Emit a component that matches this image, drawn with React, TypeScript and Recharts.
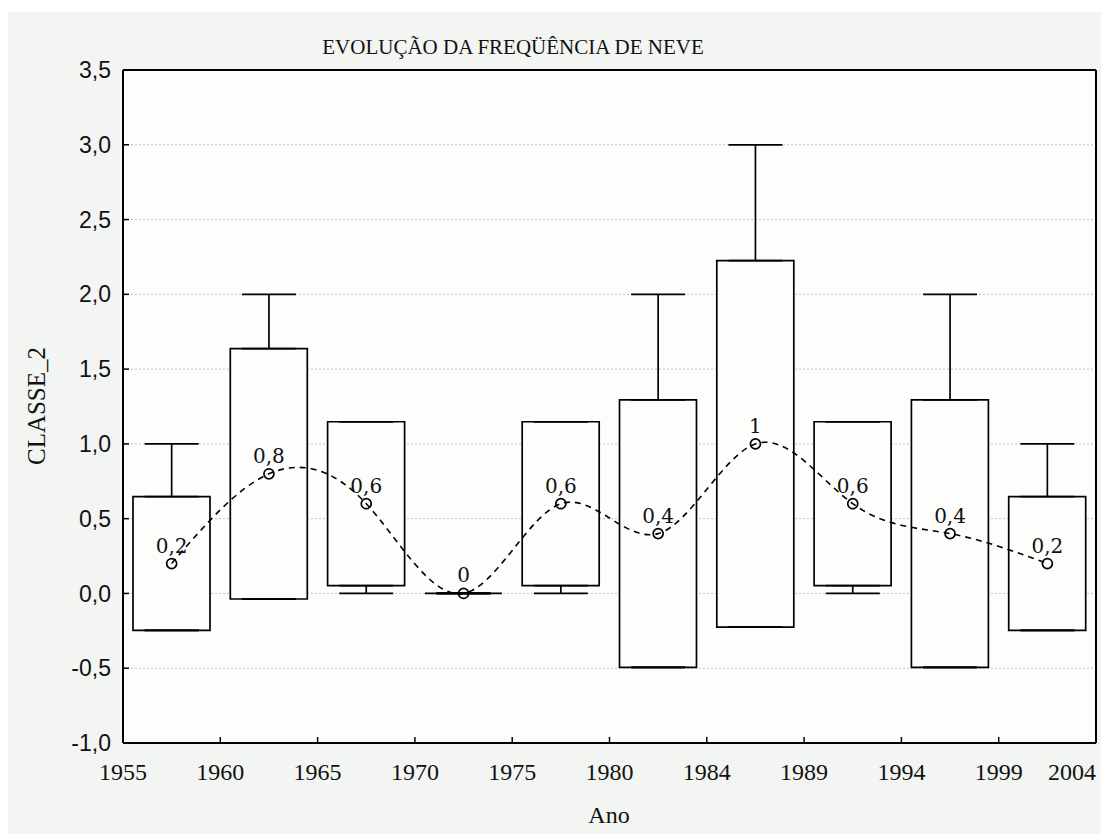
import React from "react";
import {
  ComposedChart, Bar, Line, Scatter, ErrorBar, XAxis, YAxis, CartesianGrid, LabelList,
} from "recharts";

// year tick labels (11 boundaries) and per-period statistics (10 periods)
const years = ["1955", "1960", "1965", "1970", "1975", "1980", "1984", "1989", "1994", "1999", "2004"];
const means = [0.2, 0.8, 0.6, 0, 0.6, 0.4, 1, 0.6, 0.4, 0.2];
const sds = [0.447, 0.837, 0.548, 0, 0.548, 0.894, 1.225, 0.548, 0.894, 0.447];
const mins = [0, 0, 0, 0, 0, 0, 0, 0, 0, 0];
const maxs = [1, 2, 1, 0, 1, 2, 3, 1, 2, 1];
const yTicks = [-1, -0.5, 0, 0.5, 1, 1.5, 2, 2.5, 3, 3.5];

// box = mean ± sd, whiskers run from the box edges out to min / max
const data = means.map((m, i) => {
  const lo = m - sds[i];
  const hi = m + sds[i];
  return {
    x: i + 0.5,
    mean: m,
    box: [lo, hi],
    lo,
    hi,
    upErr: [0, Math.max(0, maxs[i] - hi)],
    downErr: [Math.max(0, lo - mins[i]), 0],
  };
});

const xTicks = years.map((_, i) => i);
const comma = (v: number) => String(v).replace(".", ",");

const BoxShape = (p: any) => {
  const top = Math.min(p.y, p.y + p.height);
  const h = Math.abs(p.height);
  return (
    <path
      d={`M${p.x},${top}h${p.width}v${h}h${-p.width}Z`}
      fill="#fdfdfb"
      stroke="#000"
      strokeWidth={1.7}
    />
  );
};

const YearTick = (p: any) => {
  const last = p.index === years.length - 1;
  return (
    <text
      x={p.x}
      y={p.y}
      dy="0.71em"
      textAnchor={last ? "end" : "middle"}
      fontFamily="Liberation Serif"
      fontSize={24}
      fill="#111"
    >
      {years[p.payload.value]}
    </text>
  );
};

const MeanLabel = (p: any) => (
  <text
    x={p.x}
    y={p.y - 11}
    textAnchor="middle"
    fontFamily="DejaVu Serif"
    fontSize={20}
    fill="#111"
    stroke="none"
  >
    {comma(p.value)}
  </text>
);

const axisLine = { stroke: "#000", strokeWidth: 2 };
const tickLine = { stroke: "#000", strokeWidth: 1.5 };

export default function App() {
  return (
    <div style={{ position: "relative", width: 1101, height: 834, background: "#fff" }}>
      <style>{"body{margin:0}"}</style>
      <div
        style={{
          position: "absolute", left: 8, top: 12, width: 1093, height: 822,
          background: "#f3f5f2",
        }}
      >
        <ComposedChart
          width={1093}
          height={822}
          data={data}
          margin={{ top: 57, right: 4, bottom: 31, left: 15 }}
        >
          <CartesianGrid vertical={false} fill="#fdfdfb" stroke="#c4c4c4" strokeDasharray="2 2" />
          <XAxis
            dataKey="x"
            type="number"
            domain={[0, 10]}
            ticks={xTicks}
            interval={0}
            height={60}
            tickSize={-6}
            tickMargin={26}
            tick={<YearTick />}
            axisLine={axisLine}
            tickLine={tickLine}
          />
          <XAxis
            xAxisId="top"
            orientation="top"
            dataKey="x"
            type="number"
            domain={[0, 10]}
            ticks={xTicks}
            interval={0}
            height={1}
            tickSize={-6}
            tick={false}
            axisLine={axisLine}
            tickLine={tickLine}
          />
          <YAxis
            type="number"
            domain={[-1, 3.5]}
            ticks={yTicks}
            interval={0}
            width={100}
            tickSize={-6}
            tickMargin={18}
            tickFormatter={(v: number) => v.toFixed(1).replace(".", ",")}
            tick={{ fontFamily: "Liberation Sans", fontSize: 23, fill: "#111" }}
            axisLine={axisLine}
            tickLine={tickLine}
          />
          <YAxis
            yAxisId="right"
            orientation="right"
            type="number"
            domain={[-1, 3.5]}
            ticks={yTicks}
            interval={0}
            width={1}
            tickSize={-6}
            tick={false}
            axisLine={axisLine}
            tickLine={tickLine}
          />
          <Bar dataKey="box" barSize={77} shape={<BoxShape />} isAnimationActive={false} />
          <Scatter dataKey="hi" shape={() => <g />} isAnimationActive={false}>
            <ErrorBar dataKey="upErr" direction="y" width={27} stroke="#000" strokeWidth={1.7} />
          </Scatter>
          <Scatter dataKey="lo" shape={() => <g />} isAnimationActive={false}>
            <ErrorBar dataKey="downErr" direction="y" width={27} stroke="#000" strokeWidth={1.7} />
          </Scatter>
          <Line
            dataKey="mean"
            type="natural"
            stroke="#000"
            strokeWidth={1.6}
            strokeDasharray="6 5"
            dot={{ r: 5, fill: "none", stroke: "#000", strokeWidth: 1.7, strokeDasharray: "none" }}
            isAnimationActive={false}
          >
            <LabelList dataKey="mean" content={<MeanLabel />} />
          </Line>
        </ComposedChart>
        <div
          style={{
            position: "absolute", left: 505, top: 35, transform: "translate(-50%, -50%)",
            fontFamily: "Liberation Serif", fontSize: 21, color: "#111", whiteSpace: "nowrap",
          }}
        >
          EVOLUÇÃO DA FREQÜÊNCIA DE NEVE
        </div>
        <div
          style={{
            position: "absolute", left: 29, top: 394, transform: "translate(-50%, -50%) rotate(-90deg)",
            fontFamily: "Liberation Serif", fontSize: 25, color: "#111", whiteSpace: "nowrap",
          }}
        >
          CLASSE_2
        </div>
        <div
          style={{
            position: "absolute", left: 601, top: 803, transform: "translate(-50%, -50%)",
            fontFamily: "Liberation Serif", fontSize: 24, color: "#111", whiteSpace: "nowrap",
          }}
        >
          Ano
        </div>
      </div>
    </div>
  );
}
